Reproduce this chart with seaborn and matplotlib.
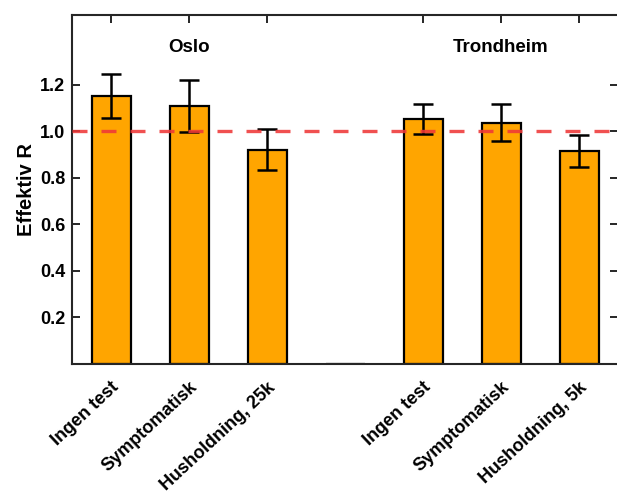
import numpy as np
import pandas as pd
import matplotlib
matplotlib.use("Agg")
import matplotlib.pyplot as plt
import seaborn as sns

# ---- data ----
categories = ["Ingen test", "Symptomatisk", "Husholdning, 25k", "gap",
              "Ingen test ", "Symptomatisk ", "Husholdning, 5k"]
tick_labels = ["Ingen test", "Symptomatisk", "Husholdning, 25k", "",
               "Ingen test", "Symptomatisk", "Husholdning, 5k"]
r_eff = [1.15, 1.108, 0.920, 0.0, 1.053, 1.036, 0.915]
r_err = [0.095, 0.110, 0.088, np.nan, 0.065, 0.080, 0.070]
groups = ["Oslo", "Trondheim"]
group_members = [[0, 1, 2], [4, 5, 6]]
threshold = 1.0

df = pd.DataFrame({"scenario": categories, "R": r_eff, "err": r_err})

sns.set_style("white")
plt.rcParams["font.family"] = ["Liberation Sans", "DejaVu Sans"]
plt.rcParams["font.weight"] = "bold"
plt.rcParams["text.color"] = "black"
plt.rcParams["axes.labelcolor"] = "black"

fig = plt.figure(figsize=(6.17, 4.97), dpi=100)
ax = fig.add_axes([0.1167, 0.2686, 0.885, 0.7014])

sns.barplot(data=df, x="scenario", y="R", order=categories, width=0.5,
            color="#FFA500", saturation=1, edgecolor="black", linewidth=1.6,
            errorbar=None, ax=ax)

# error bars on top of the bars (skip the empty gap slot)
pos = np.arange(len(categories))
ax.errorbar(pos, df["R"], yerr=df["err"], fmt="none", ecolor="black",
            elinewidth=1.8, capsize=7.5, capthick=1.8, zorder=3)

ax.axhline(threshold, color="#EE3838", alpha=0.88, lw=2.4,
           linestyle=(0, (4.5, 4.2)), zorder=4)

for name, members in zip(groups, group_members):
    ax.text(np.mean(pos[members]), 1.36, name, ha="center", va="center",
            fontsize=13.5, fontweight="bold", color="black")

ax.set_ylim(0, 1.5)
ax.set_xlim(-0.5, len(categories) - 0.5)
ax.set_yticks([0.2, 0.4, 0.6, 0.8, 1.0, 1.2])
ax.set_yticklabels(["0.2", "0.4", "0.6", "0.8", "1.0", "1.2"], fontsize=13,
                   fontweight="bold")
shown = [i for i, t in enumerate(tick_labels) if t]
ax.set_xticks(shown)
ax.set_xticklabels([tick_labels[i] for i in shown], rotation=43, ha="right",
                   rotation_mode="anchor", fontsize=13, fontweight="bold")
ax.set_xlabel("")
ax.set_ylabel("Effektiv R", fontsize=14.5, fontweight="bold", labelpad=3)

ax.set_axisbelow(True)
ax.tick_params(axis="both", direction="in", length=6, width=1.4,
               top=True, right=True, bottom=True, left=True, colors="#262626")
ax.tick_params(axis="x", pad=11, labelcolor="black")
ax.tick_params(axis="y", pad=5, labelcolor="black")
for s in ax.spines.values():
    s.set_color("#262626")
    s.set_linewidth(1.5)
    s.set_visible(True)

fig.savefig("out.png", dpi=100)
